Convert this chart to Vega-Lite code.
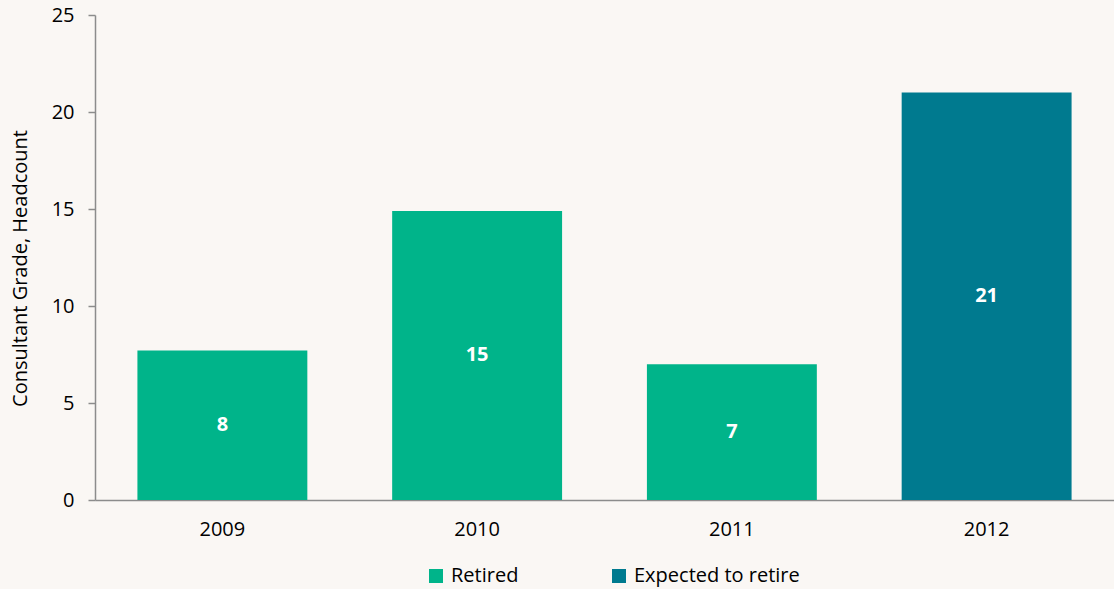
{
  "$schema": "https://vega.github.io/schema/vega-lite/v6.json",
  "autosize": {"type": "none"},
  "width": 1019,
  "height": 485,
  "padding": {"left": 95, "top": 15, "right": 0, "bottom": 89},
  "background": "#FAF7F4",
  "config": {
    "font": "Open Sans",
    "view": {"stroke": null}
  },
  "data": {
    "values": [
      {"year": "2009", "value": 7.7, "label": "8", "status": "Retired"},
      {"year": "2010", "value": 14.9, "label": "15", "status": "Retired"},
      {"year": "2011", "value": 7.0, "label": "7", "status": "Retired"},
      {"year": "2012", "value": 21.0, "label": "21", "status": "Expected to retire"}
    ]
  },
  "encoding": {
    "x": {
      "field": "year",
      "type": "nominal",
      "scale": {"paddingInner": 0.333, "paddingOuter": 0.1665},
      "axis": {
        "title": null,
        "labelAngle": 0,
        "ticks": false,
        "labelPadding": 19,
        "labelFontSize": 20,
        "labelColor": "#000000",
        "domainColor": "#8C8C8C",
        "domainWidth": 1.5
      }
    }
  },
  "layer": [
    {
      "mark": {"type": "bar"},
      "encoding": {
        "y": {
          "field": "value",
          "type": "quantitative",
          "scale": {"domain": [0, 25], "nice": false},
          "axis": {
            "title": "Consultant Grade, Headcount",
            "titleFontSize": 20,
            "titleFontWeight": "normal",
            "titleColor": "#000000",
            "titleX": -75,
            "titleY": 253,
            "titleAngle": -90,
            "titleBaseline": "middle",
            "titleAlign": "center",
            "values": [0, 5, 10, 15, 20, 25],
            "grid": false,
            "tickSize": 7,
            "tickColor": "#8C8C8C",
            "tickWidth": 1.5,
            "labelPadding": 14,
            "labelFontSize": 20,
            "labelColor": "#000000",
            "domainColor": "#8C8C8C",
            "domainWidth": 1.5
          }
        },
        "color": {
          "field": "status",
          "type": "nominal",
          "scale": {"domain": ["Retired", "Expected to retire"], "range": ["#00B48A", "#007A8F"]},
          "legend": {
            "title": null,
            "orient": "none",
            "direction": "horizontal",
            "legendX": 331,
            "legendY": 551,
            "symbolType": "square",
            "symbolSize": 196,
            "symbolStrokeWidth": 0,
            "labelFontSize": 20,
            "labelColor": "#000000",
            "labelLimit": 400,
            "columnPadding": 90,
            "labelOffset": 5
          }
        }
      }
    },
    {
      "transform": [{"calculate": "datum.value / 2", "as": "mid"}],
      "mark": {"type": "text", "color": "#FFFFFF", "fontWeight": "bold", "fontSize": 20},
      "encoding": {
        "y": {"field": "mid", "type": "quantitative"},
        "text": {"field": "label"}
      }
    }
  ]
}
